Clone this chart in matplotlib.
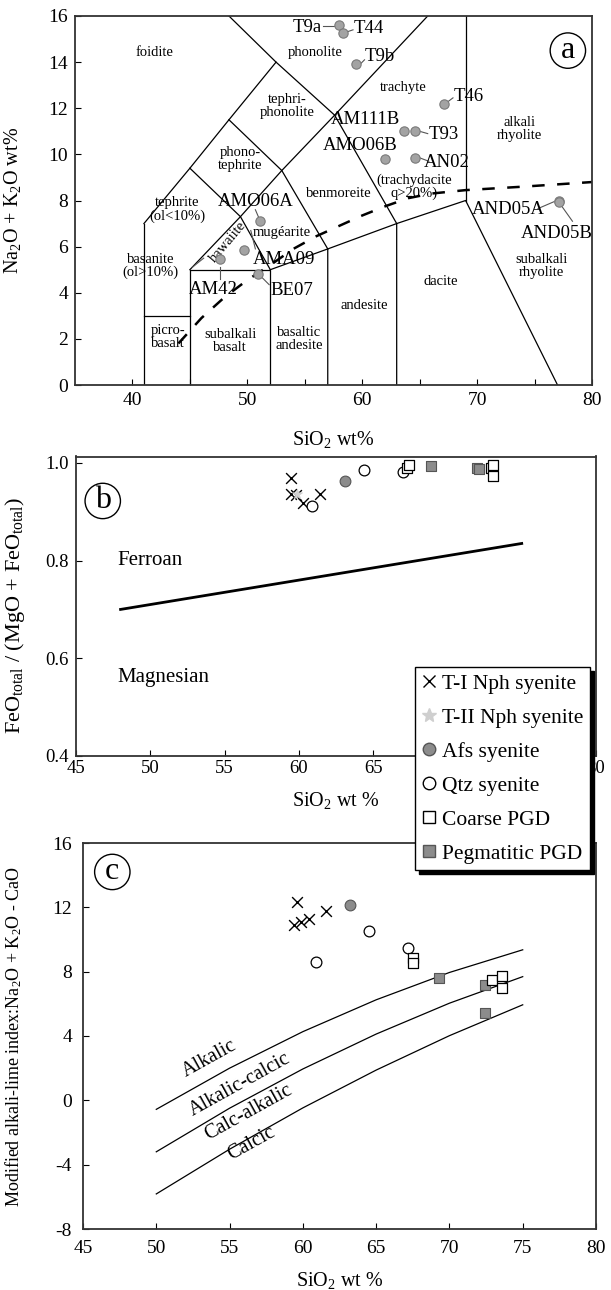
import matplotlib
matplotlib.use('Agg')
import matplotlib.pyplot as plt
from matplotlib.lines import Line2D

plt.rcParams['font.family'] = ['Liberation Serif', 'DejaVu Serif']
plt.rcParams['mathtext.fontset'] = 'custom'
plt.rcParams['mathtext.rm'] = 'Liberation Serif'
plt.rcParams['mathtext.it'] = 'Liberation Serif:italic'
plt.rcParams['mathtext.bf'] = 'Liberation Serif:bold'
plt.rcParams['axes.unicode_minus'] = False

# ---------------- Panel a : TAS data ----------------
tas_names = ['T9a', 'T44', 'T9b', 'T46', 'AM111B', 'T93', 'AMO06B', 'AN02',
             'AND05A', 'AND05B', 'AMO06A', 'AMA09', 'AM42', 'BE07']
tas_sio2 = [58.0, 58.3, 59.5, 67.1, 63.6, 64.6, 62.0, 64.6,
            77.1, 77.1, 51.1, 49.7, 47.6, 50.9]
tas_alk = [15.6, 15.25, 13.9, 12.2, 11.0, 11.0, 9.8, 9.85,
           8.0, 7.95, 7.1, 5.85, 5.45, 4.8]
# label positions (x, y) for each sample name
tas_lab_x = [55.2, 60.6, 61.5, 69.3, 60.3, 67.1, 59.8, 67.4, 72.7, 76.9, 50.7, 53.2, 47.0, 53.9]
tas_lab_y = [15.5, 15.45, 14.25, 12.5, 11.5, 10.85, 10.4, 9.65, 7.62, 6.58, 7.95, 5.45, 4.15, 4.08]

# TAS field boundary polylines
tas_bounds = [
    ([41, 41], [0, 7]),
    ([41, 45], [3, 3]),
    ([45, 45, 52, 52], [0, 5, 5, 0]),
    ([52, 57, 57], [5, 5.9, 0]),
    ([57, 63, 63], [5.9, 7, 0]),
    ([63, 69, 77.0], [7, 8, 0]),
    ([69, 69], [8, 16]),
    ([41, 45, 48.4, 52.5, 48.4], [7, 9.4, 11.5, 14, 16]),
    ([45, 49.4, 53, 57.6, 65.7], [5, 7.3, 9.3, 11.7, 16]),
    ([45, 49.4, 52], [9.4, 7.3, 5]),
    ([48.4, 53, 57], [11.5, 9.3, 5.9]),
    ([52.5, 57.6, 63], [14, 11.7, 7]),
]
# alkaline / subalkaline divide (dashed)
div_x = [44.0, 46, 48, 50, 52, 54, 56, 58, 60, 62, 64, 66, 69, 74, 80]
div_y = [1.8, 2.9, 3.8, 4.55, 5.2, 5.9, 6.45, 6.9, 7.35, 7.75, 8.1, 8.3, 8.45, 8.6, 8.8]

field_labels = [
    ('foidite', 41.9, 14.4, 0), ('phonolite', 55.9, 14.4, 0),
    ('tephri-\nphonolite', 53.5, 12.1, 0), ('trachyte', 63.6, 12.9, 0),
    ('alkali\nrhyolite', 73.7, 11.1, 0), ('phono-\ntephrite', 49.4, 9.8, 0),
    ('benmoreite', 58.0, 8.3, 0), ('(trachydacite\nq>20%)', 64.5, 8.6, 0),
    ('tephrite\n(ol<10%)', 43.9, 7.6, 0), ('mugéarite', 53.0, 6.6, 0),
    ('hawaiite', 48.3, 6.2, 50), ('basanite\n(ol>10%)', 41.6, 5.15, 0),
    ('andesite', 60.2, 3.45, 0), ('dacite', 66.8, 4.5, 0),
    ('subalkali\nrhyolite', 75.6, 5.15, 0), ('picro-\nbasalt', 43.1, 2.1, 0),
    ('subalkali\nbasalt', 48.5, 1.9, 0), ('basaltic\nandesite', 54.5, 2.0, 0),
]

# ---------------- Panel b data ----------------
b_t1_x = [59.5, 59.5, 59.8, 60.3, 61.4]
b_t1_y = [0.970, 0.937, 0.935, 0.918, 0.937]
b_t2_x = [59.9]
b_t2_y = [0.937]
b_afs_x = [63.1]
b_afs_y = [0.962]
b_qtz_x = [60.9, 64.4, 67.0]
b_qtz_y = [0.912, 0.985, 0.982]
b_coarse_x = [67.3, 67.4, 72.9, 73.1, 73.1]
b_coarse_y = [0.990, 0.995, 0.990, 0.996, 0.974]
b_peg_x = [68.9, 72.0, 72.1]
b_peg_y = [0.994, 0.990, 0.988]
ferro_line_x = [48, 75]
ferro_line_y = [0.700, 0.835]

# ---------------- Panel c data ----------------
c_t1_x = [59.6, 59.4, 59.9, 60.4, 61.6]
c_t1_y = [12.35, 10.9, 11.1, 11.25, 11.8]
c_afs_x = [63.2]
c_afs_y = [12.15]
c_qtz_x = [60.9, 64.5, 67.2]
c_qtz_y = [8.6, 10.55, 9.45]
c_coarse_x = [67.5, 67.5, 72.9, 73.6, 73.6]
c_coarse_y = [8.85, 8.55, 7.5, 7.7, 7.0]
c_peg_x = [69.3, 72.4, 72.4]
c_peg_y = [7.6, 7.15, 5.45]
mali_x = [50, 55, 60, 65, 70, 75]
mali_alk = [-0.56, 2.0, 4.27, 6.25, 7.95, 9.36]
mali_alkcal = [-3.2, -0.49, 1.95, 4.12, 6.04, 7.69]
mali_calcalk = [-5.82, -3.04, -0.47, 1.88, 4.02, 5.94]

W, H = 611, 1290
fig = plt.figure(figsize=(W / 100, H / 100), dpi=100)

def axrect(l, r, t, b):
    return [l / W, 1 - b / H, (r - l) / W, (b - t) / H]

frame_col = '#333333'

def style(ax, lsize, xpad, ypad):
    for s in ax.spines.values():
        s.set_color(frame_col)
        s.set_linewidth(1.3)
    ax.tick_params(direction='in', length=4, width=0.8, labelsize=lsize, colors='black')
    ax.tick_params(axis='x', pad=xpad)
    ax.tick_params(axis='y', pad=ypad)

def circ_label(ax, x, y, s):
    ax.text(x, y, s, fontsize=23, ha='center', va='center', zorder=6,
            bbox=dict(boxstyle='circle,pad=0.1', fc='white', ec='black', lw=1.0))

# ======== Panel a ========
axa = fig.add_axes(axrect(75, 592, 16, 385))
for xs, ys in tas_bounds:
    axa.plot(xs, ys, color='black', lw=0.9, zorder=2)
axa.plot(div_x, div_y, color='black', lw=1.8, ls=(0, (5, 5)), zorder=2)
for txt, x, y, rot in field_labels:
    axa.text(x, y, txt, fontsize=10.5, ha='center', va='center', rotation=rot,
             linespacing=1.0, zorder=3)
axa.scatter(tas_sio2, tas_alk, s=45, c='#a3a3a3', edgecolors='#7a7a7a', linewidths=0.8, zorder=4)
for n, x, y in zip(tas_names, tas_lab_x, tas_lab_y):
    axa.text(x, y, n, fontsize=13.5, ha='center', va='center', zorder=5)
# leader lines
leaders = [([56.6, 57.6], [15.55, 15.55]), ([58.6, 59.2], [15.3, 15.4]),
           ([59.9, 60.2], [13.95, 14.1]), ([67.5, 67.9], [12.3, 12.45]),
           ([65.0, 65.7], [11.0, 10.9]), ([65.0, 65.8], [9.85, 9.7]),
           ([75.3, 76.7], [7.65, 7.95]), ([77.3, 78.3], [7.8, 7.1]),
           ([47.6, 47.6], [5.1, 4.6]), ([51.3, 51.9], [4.65, 4.35]),
           ([50.7, 51.0], [7.6, 7.25]), ([50.3, 50.7], [6.7, 5.9]),
           ([45.2, 46.2], [5.1, 5.5])]
for xs, ys in leaders:
    axa.plot(xs, ys, color='#555555', lw=0.8, zorder=3)
circ_label(axa, 77.9, 14.5, 'a')
axa.set_xlim(35, 80)
axa.set_ylim(0, 16)
axa.set_xticks([40, 50, 60, 70, 80])
axa.set_xticks([45, 55, 65, 75], minor=True)
axa.set_yticks(range(0, 17, 2))
axa.tick_params(which='minor', direction='in', length=4, width=0.8)
style(axa, 14, 5, 5)
axa.set_xlabel(r'SiO$_2$ wt%', fontsize=14.5)
axa.set_ylabel(r'Na$_2$O + K$_2$O wt%', fontsize=14.5)
axa.xaxis.set_label_coords(0.5, -0.118)
axa.yaxis.set_label_coords(-0.10, 0.5)

# ======== Panel b ========
axb = fig.add_axes(axrect(76, 596, 456.5, 756))
axb.plot(ferro_line_x, ferro_line_y, color='black', lw=2.0, zorder=2)
axb.text(47.8, 0.80, 'Ferroan', fontsize=15, ha='left', va='center')
axb.text(47.8, 0.56, 'Magnesian', fontsize=15, ha='left', va='center')
mk = dict(s=60, zorder=4)
axb.scatter(b_t1_x, b_t1_y, marker='x', c='black', linewidths=1.0, **mk)
axb.scatter(b_t2_x, b_t2_y, marker='*', c='#cfcfcf', linewidths=0.5, **mk)
axb.scatter(b_afs_x, b_afs_y, marker='o', c='#8c8c8c', edgecolors='#555555', linewidths=0.8, **mk)
axb.scatter(b_qtz_x, b_qtz_y, marker='o', facecolors='white', edgecolors='black', linewidths=0.9, **mk)
axb.scatter(b_peg_x, b_peg_y, marker='s', c='#8c8c8c', edgecolors='#555555', linewidths=0.8, **mk)
axb.scatter(b_coarse_x, b_coarse_y, marker='s', facecolors='white', edgecolors='black', linewidths=0.9, **mk)
circ_label(axb, 46.8, 0.922, 'b')
axb.set_xlim(45, 80)
axb.set_ylim(0.4, 1.013)
axb.set_xticks(range(45, 81, 5))
axb.set_yticks([0.4, 0.6, 0.8, 1.0])
axb.set_yticklabels(['0.4', '0.6', '0.8', '1.0'])
style(axb, 13.5, 3, 5)
axb.set_xlabel(r'SiO$_2$ wt %', fontsize=14.5)
axb.set_ylabel(r'FeO$_{\mathrm{total}}$ / (MgO + FeO$_{\mathrm{total}}$)', fontsize=16)
axb.xaxis.set_label_coords(0.5, -0.115)
axb.yaxis.set_label_coords(-0.094, 0.47)

# ======== Panel c ========
axc = fig.add_axes(axrect(83, 596, 843, 1229))
for ys in (mali_alk, mali_alkcal, mali_calcalk):
    axc.plot(mali_x, ys, color='black', lw=0.9, zorder=2)
for txt, x, y in [('Alkalic', 53.6, 2.6), ('Alkalic-calcic', 55.7, 0.95),
                  ('Calc-alkalic', 56.3, -0.75), ('Calcic', 56.5, -2.7)]:
    axc.text(x, y, txt, fontsize=14.5, ha='center', va='center', rotation=29,
             rotation_mode='anchor')
axc.scatter(c_t1_x, c_t1_y, marker='x', c='black', linewidths=1.0, **mk)
axc.scatter(c_afs_x, c_afs_y, marker='o', c='#8c8c8c', edgecolors='#555555', linewidths=0.8, **mk)
axc.scatter(c_qtz_x, c_qtz_y, marker='o', facecolors='white', edgecolors='black', linewidths=0.9, **mk)
axc.scatter(c_peg_x, c_peg_y, marker='s', c='#8c8c8c', edgecolors='#555555', linewidths=0.8, **mk)
axc.scatter(c_coarse_x, c_coarse_y, marker='s', facecolors='white', edgecolors='black', linewidths=0.9, **mk)
circ_label(axc, 47.0, 14.2, 'c')
axc.set_xlim(45, 80)
axc.set_ylim(-8, 16)
axc.set_xticks(range(45, 81, 5))
axc.set_yticks(range(-8, 17, 4))
style(axc, 14, 8, 8)
axc.set_xlabel(r'SiO$_2$ wt %', fontsize=14.5)
axc.set_ylabel(r'Modified alkali-lime index:Na$_2$O + K$_2$O - CaO', fontsize=13)
axc.xaxis.set_label_coords(0.5, -0.105)
axc.yaxis.set_label_coords(-0.115, 0.5)

# ======== Legend ========
handles = [
    Line2D([], [], ls='', marker='x', color='black', markersize=9, mew=1.0),
    Line2D([], [], ls='', marker='*', color='#cfcfcf', markersize=10),
    Line2D([], [], ls='', marker='o', mfc='#8c8c8c', mec='#555555', markersize=9),
    Line2D([], [], ls='', marker='o', mfc='white', mec='black', markersize=9),
    Line2D([], [], ls='', marker='s', mfc='white', mec='black', markersize=9),
    Line2D([], [], ls='', marker='s', mfc='#8c8c8c', mec='#555555', markersize=9),
]
labels = ['T-I Nph syenite', 'T-II Nph syenite', 'Afs syenite', 'Qtz syenite',
          'Coarse PGD', 'Pegmatitic PGD']
leg = fig.legend(handles, labels, loc='upper left', bbox_to_anchor=(415 / W, 1 - 667 / H),
                 fontsize=15.5, frameon=True, fancybox=False, edgecolor='black',
                 framealpha=1, borderaxespad=0, labelspacing=0.65, handletextpad=0.25,
                 handlelength=0.7, borderpad=0.3,
                 shadow={'color': 'black', 'alpha': 1, 'ox': 3, 'oy': -3})
leg.get_frame().set_linewidth(1.0)
leg.set_zorder(20)

fig.savefig('out.png', dpi=100)
